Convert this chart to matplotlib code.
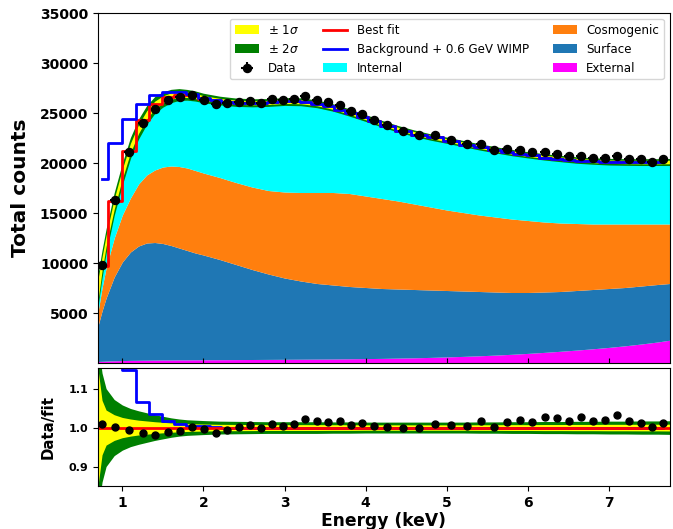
##############################################
#   Energy spectrum fit with data/fit ratio  #
##############################################

import numpy as np
import matplotlib
matplotlib.use("Agg")
import matplotlib.pyplot as plt

# Measured spectrum (bin centres in keV, counts) and data/fit ratio
data_e = [0.746, 0.910, 1.083, 1.252, 1.408, 1.568, 1.712, 1.864, 2.009, 2.153,
          2.293, 2.437, 2.580, 2.712, 2.848, 2.984, 3.120, 3.257, 3.401, 3.541,
          3.680, 3.821, 3.960, 4.100, 4.265, 4.463, 4.660, 4.861, 5.059, 5.252,
          5.427, 5.585, 5.746, 5.901, 6.058, 6.210, 6.363, 6.511, 6.659, 6.807,
          6.955, 7.099, 7.243, 7.391, 7.531, 7.672]
data_counts = [9780, 16260, 21100, 23970, 25400, 26330, 26600, 26800, 26330, 25900,
               25970, 26070, 26200, 25970, 26370, 26270, 26400, 26660, 26330, 26070,
               25770, 25170, 24910, 24280, 23780, 23180, 22780, 22780, 22350, 21950,
               21930, 21340, 21410, 21270, 21070, 21070, 20940, 20670, 20730, 20530,
               20530, 20730, 20430, 20400, 20100, 20400]
ratio = [1.009, 1.0025, 0.993, 0.9856, 0.9805, 0.989, 0.9907, 1.0017, 0.9958, 0.9864,
         0.995, 1.0008, 1.006, 0.9992, 1.0093, 1.0034, 1.0093, 1.021, 1.016, 1.0144,
         1.0178, 1.006, 1.0127, 1.005, 1.0017, 0.998, 0.998, 1.0093, 1.0076, 1.005,
         1.017, 1.0025, 1.0136, 1.0195, 1.0136, 1.027, 1.0246, 1.016, 1.0263, 1.0178,
         1.0195, 1.031, 1.017, 1.0127, 1.0017, 1.0127]
# background + 0.6 GeV WIMP relative to best fit
wimp_ratio = [1.90, 1.356, 1.147, 1.066, 1.035, 1.018, 1.009, 1.005, 1.003, 1.001] + [1.0] * 36

# Model curves (keV grid)
e_grid = [0.70, 0.75, 0.80, 0.90, 1.0, 1.1, 1.2, 1.3, 1.4, 1.5, 1.6, 1.7, 1.8, 1.9,
          2.0, 2.2, 2.4, 2.6, 2.8, 3.0, 3.2, 3.4, 3.6, 3.8, 4.0, 4.2, 4.4, 4.6, 4.8,
          5.0, 5.2, 5.4, 5.6, 5.8, 6.0, 6.2, 6.4, 6.6, 6.8, 7.0, 7.2, 7.4, 7.6, 7.75]
fit_total = [7300, 9900, 12200, 15900, 18900, 21500, 23400, 24800, 25800, 26350, 26700,
             26850, 26820, 26700, 26500, 26250, 26080, 26020, 26050, 26150, 26120, 25920,
             25550, 25050, 24500, 23930, 23420, 22980, 22600, 22280, 21950, 21620, 21320,
             21050, 20820, 20620, 20450, 20300, 20200, 20130, 20100, 20090, 20090, 20100]
cosmogenic_top = [5100, 7500, 9500, 12500, 14800, 16500, 17900, 18800, 19300, 19600, 19700,
                  19650, 19500, 19250, 19000, 18550, 18050, 17600, 17250, 17100, 17050, 17050,
                  17050, 16950, 16700, 16450, 16200, 15900, 15600, 15300, 15050, 14800, 14600,
                  14400, 14250, 14100, 14000, 13950, 13900, 13900, 13900, 13900, 13900, 13900]
surface_top = [3700, 5200, 6500, 8600, 10100, 11100, 11700, 12000, 12050, 11950, 11750,
               11500, 11250, 11000, 10800, 10350, 9850, 9350, 8900, 8500, 8200, 7950,
               7800, 7650, 7550, 7450, 7400, 7350, 7300, 7250, 7200, 7150, 7100,
               7050, 7050, 7100, 7150, 7250, 7350, 7450, 7550, 7700, 7850, 7950]
external_top = [150, 170, 190, 220, 240, 260, 270, 280, 290, 300, 300,
                310, 310, 320, 320, 330, 340, 350, 360, 370, 380, 390,
                400, 420, 440, 460, 490, 520, 560, 610, 660, 720, 790,
                870, 960, 1060, 1170, 1290, 1420, 1560, 1720, 1900, 2100, 2280]
# relative fit uncertainty
sig1 = [0.15, 0.07, 0.045, 0.033, 0.026, 0.022, 0.019, 0.017, 0.015, 0.0135, 0.012,
        0.011, 0.010, 0.0095, 0.009, 0.0083, 0.008, 0.0078, 0.0075, 0.0075, 0.0075, 0.0075,
        0.0073, 0.0073, 0.007, 0.007, 0.007, 0.007, 0.007, 0.007, 0.007, 0.0072, 0.0073,
        0.0075, 0.0075, 0.0078, 0.0078, 0.008, 0.008, 0.0083, 0.0083, 0.0085, 0.0085, 0.0088]
sig2 = [0.22, 0.14, 0.10, 0.072, 0.058, 0.049, 0.043, 0.038, 0.033, 0.029, 0.025,
        0.022, 0.020, 0.019, 0.018, 0.0165, 0.016, 0.0155, 0.015, 0.015, 0.015, 0.015,
        0.0145, 0.0145, 0.014, 0.014, 0.014, 0.014, 0.014, 0.014, 0.014, 0.0145, 0.0145,
        0.015, 0.015, 0.0155, 0.0155, 0.016, 0.016, 0.0165, 0.0165, 0.017, 0.017, 0.0175]

e = np.array(e_grid)
fit = np.array(fit_total)
s1 = np.array(sig1)
s2 = np.array(sig2)
de = np.array(data_e)
dc = np.array(data_counts)
fit_at_data = dc / np.array(ratio)
bkg_wimp = fit_at_data * np.array(wimp_ratio)

fig = plt.figure(figsize=(6.73, 5.29), dpi=100)
ax = fig.add_axes([0.1456, 0.3138, 0.8495, 0.6616])
axr = fig.add_axes([0.1456, 0.0813, 0.8495, 0.2231])

# stacked backgrounds
ax.fill_between(e, 0, external_top, color='magenta', lw=0, label='External')
ax.fill_between(e, external_top, surface_top, color='#1f77b4', lw=0, label='Surface')
ax.fill_between(e, surface_top, cosmogenic_top, color='#ff7f0e', lw=0, label='Cosmogenic')
ax.fill_between(e, cosmogenic_top, fit, color='cyan', lw=0, label='Internal')

# uncertainty bands
ax.fill_between(e, fit * (1 - s2), fit * (1 + s2), color='green', lw=0, label=r'$\pm$ 2$\sigma$')
ax.fill_between(e, fit * (1 - s1), fit * (1 + s1), color='yellow', lw=0, label=r'$\pm$ 1$\sigma$')

ax.step(de, fit_at_data, where='mid', color='red', lw=2, label='Best fit')
ax.step(de, bkg_wimp, where='mid', color='blue', lw=2, label='Background + 0.6 GeV WIMP')
ax.errorbar(de, dc, xerr=0.06, yerr=np.sqrt(dc), fmt='o', color='black', ms=5.8,
            elinewidth=1.5, label='Data', zorder=5)

ax.set_xlim(0.7, 7.75)
ax.set_ylim(0, 35000)
ax.set_yticks([5000, 10000, 15000, 20000, 25000, 30000, 35000])
ax.set_xticks([1, 2, 3, 4, 5, 6, 7])
ax.tick_params(axis='x', labelbottom=False, direction='in')
ax.tick_params(axis='y', labelsize=10)
for lbl in ax.get_yticklabels():
    lbl.set_fontweight('bold')
ax.set_ylabel('Total counts', fontsize=14.5, fontweight='bold', labelpad=7)

# legend order as in the original
h, l = ax.get_legend_handles_labels()
order = ['$\\pm$ 1$\\sigma$', '$\\pm$ 2$\\sigma$', 'Data', 'Best fit',
         'Background + 0.6 GeV WIMP', 'Internal', 'Cosmogenic', 'Surface', 'External']
hd = dict(zip(l, h))
ax.legend([hd[k] for k in order], order, ncol=3, loc='upper right', fontsize=8.6)

# ratio panel
axr.fill_between(e, 1 - s2, 1 + s2, color='green', lw=0)
axr.fill_between(e, 1 - s1, 1 + s1, color='yellow', lw=0)
axr.step(de, wimp_ratio, where='mid', color='blue', lw=2)
axr.axhline(1.0, color='red', lw=2)
axr.plot(de, ratio, 'o', color='black', ms=5)
axr.set_xlim(0.7, 7.75)
axr.set_ylim(0.85, 1.153)
axr.set_yticks([0.9, 1.0, 1.1])
axr.set_xticks([1, 2, 3, 4, 5, 6, 7])
axr.tick_params(axis='y', labelsize=8)
axr.tick_params(axis='x', labelsize=10)
for lbl in axr.get_yticklabels() + axr.get_xticklabels():
    lbl.set_fontweight('bold')
axr.set_ylabel('Data/fit', fontsize=10.8, fontweight='bold', labelpad=9)
axr.set_xlabel('Energy (keV)', fontsize=12.3, fontweight='bold', labelpad=2)

plt.savefig('out.png', dpi=100)
print("Saved plot")
